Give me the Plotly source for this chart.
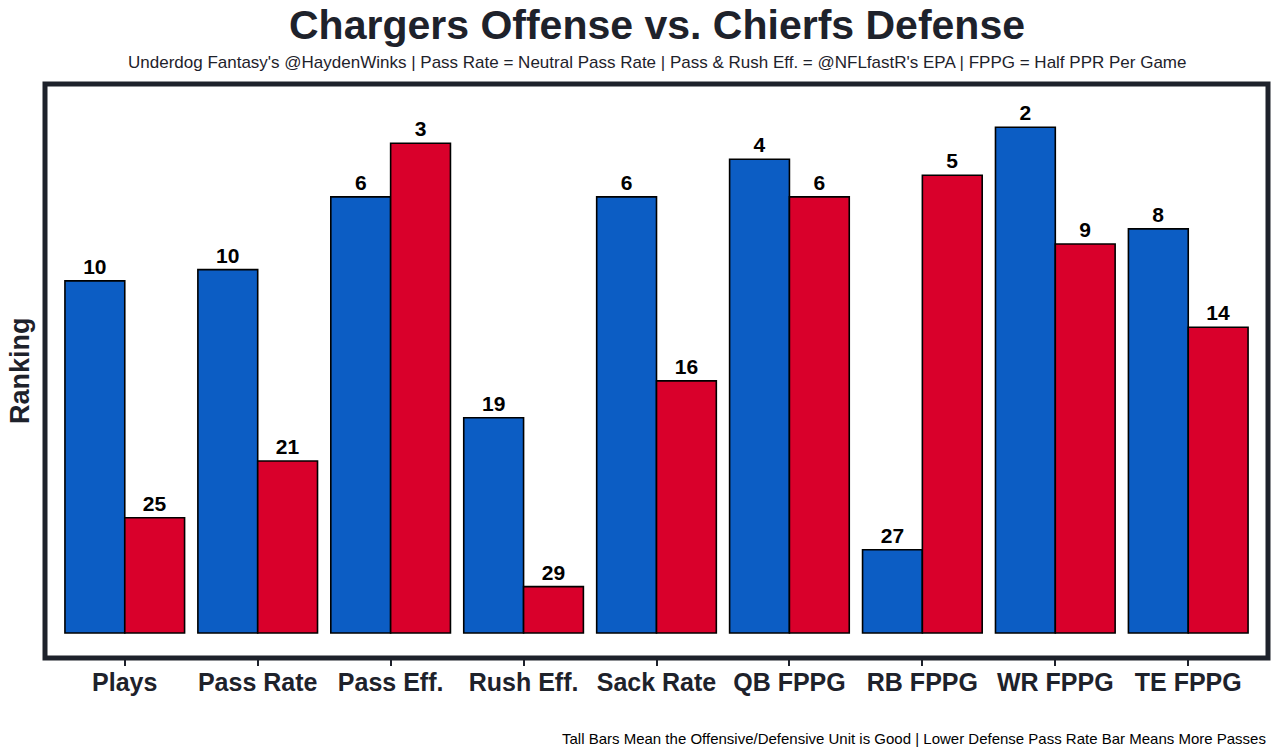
import plotly.graph_objects as go

categories = ["Plays", "Pass Rate", "Pass Eff.", "Rush Eff.", "Sack Rate",
              "QB FPPG", "RB FPPG", "WR FPPG", "TE FPPG"]
# bar heights (relative score)
offense_height = [22.0, 22.7, 27.25, 13.45, 27.25, 29.6, 5.2, 31.6, 25.25]
defense_height = [7.2, 10.75, 30.6, 2.9, 15.75, 27.25, 28.6, 24.3, 19.1]
# rank labels
offense_rank = [10, 10, 6, 19, 6, 4, 27, 2, 8]
defense_rank = [25, 21, 3, 29, 16, 6, 5, 9, 14]

BLUE = "#0c5dc4"
RED = "#d9002b"
DARK = "#1e222b"
FONT = "Liberation Sans"

fig = go.Figure()
fig.add_trace(go.Bar(
    x=categories, y=offense_height, name="Chargers Offense",
    marker=dict(color=BLUE, line=dict(color="black", width=1.6)),
    text=[str(v) for v in offense_rank], textposition="outside",
    textfont=dict(family=FONT, size=21, color="black", weight="bold"),
    cliponaxis=False,
))
fig.add_trace(go.Bar(
    x=categories, y=defense_height, name="Chiefs Defense",
    marker=dict(color=RED, line=dict(color="black", width=1.6)),
    text=[str(v) for v in defense_rank], textposition="outside",
    textfont=dict(family=FONT, size=21, color="black", weight="bold"),
    cliponaxis=False,
))

fig.update_layout(
    width=1280, height=756,
    margin=dict(l=45, r=12, t=84, b=98),
    paper_bgcolor="white", plot_bgcolor="white",
    barmode="group", bargap=0.1, bargroupgap=0,
    showlegend=False,
    font=dict(family=FONT, color=DARK),
)
fig.update_xaxes(
    range=[-0.6, 8.6], showgrid=False, zeroline=False, showline=False,
    ticks="outside", ticklen=7, tickwidth=1.5, tickcolor=DARK,
    ticklabelstandoff=-5,
    tickfont=dict(family=FONT, size=25, color=DARK, weight="bold"),
)
fig.update_yaxes(
    range=[-1.5625, 34.3], showgrid=False, zeroline=False, showline=False,
    showticklabels=False, ticks="",
)

fig.add_shape(type="rect", xref="paper", yref="paper", x0=0, x1=1, y0=0, y1=1,
              line=dict(color=DARK, width=5), fillcolor="rgba(0,0,0,0)", layer="above")

fig.add_annotation(text="<b>Chargers Offense vs. Chierfs Defense</b>",
                   xref="paper", yref="paper", x=0.5, y=1.1028,
                   xanchor="center", yanchor="middle", showarrow=False, borderpad=0,
                   font=dict(family=FONT, size=41, color=DARK))
fig.add_annotation(text="Underdog Fantasy's @HaydenWinks | Pass Rate = Neutral Pass Rate | Pass & Rush Eff. = @NFLfastR's EPA | FPPG = Half PPR Per Game",
                   xref="paper", yref="paper", x=0.5, y=1.0366,
                   xanchor="center", yanchor="middle", showarrow=False,
                   font=dict(family=FONT, size=17, color=DARK))
fig.add_annotation(text="Tall Bars Mean the Offensive/Defensive Unit is Good | Lower Defense Pass Rate Bar Means More Passes",
                   xref="paper", yref="paper", x=1.0, y=-0.1411,
                   xanchor="right", yanchor="middle", showarrow=False,
                   font=dict(family=FONT, size=15, color="black"))
fig.add_annotation(text="<b>Ranking</b>",
                   xref="paper", yref="paper", x=0, y=0.5, xshift=-25,
                   xanchor="center", yanchor="middle", showarrow=False, textangle=-90,
                   borderpad=0,
                   font=dict(family=FONT, size=27, color=DARK))

fig.write_html("out.html", config={"displayModeBar": False},
               post_script="document.body.style.margin='0';")
